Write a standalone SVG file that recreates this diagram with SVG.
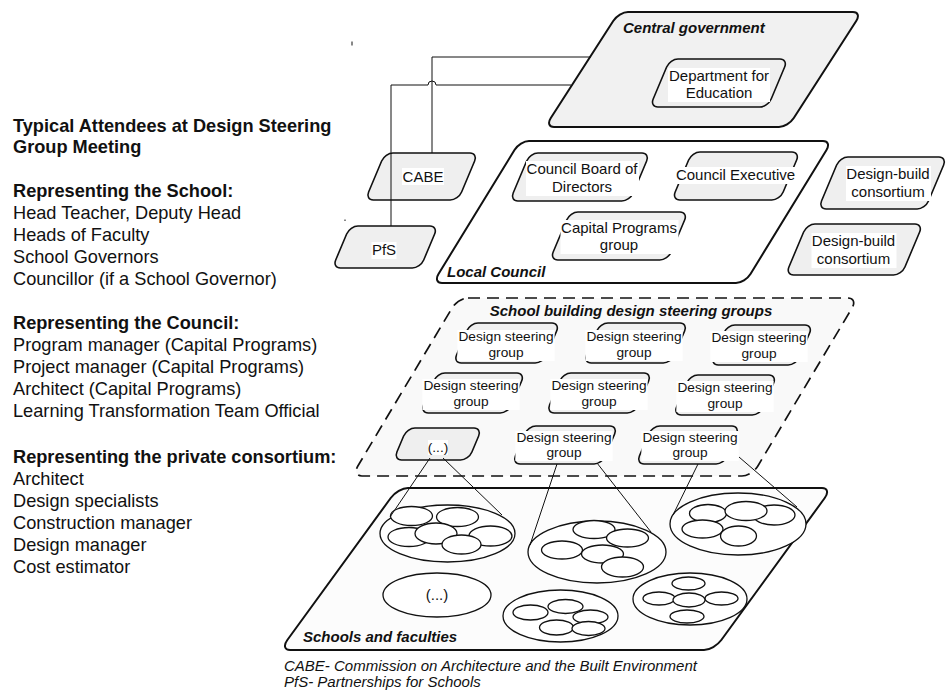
<svg xmlns="http://www.w3.org/2000/svg" width="949" height="690" viewBox="0 0 949 690">
<style>
text { font-family: "Liberation Sans", Arial, sans-serif; fill: #111; }
.lbl { font-size: 15px; text-anchor: middle; }
.sg { font-size: 13.7px; text-anchor: middle; }
.ttl { font-size: 15px; font-weight: bold; font-style: italic; }
.side { font-size: 18.2px; }
.b { font-weight: bold; }
.foot { font-size: 15px; font-style: italic; }
.big { stroke: #111; stroke-width: 2; }
.box { fill: #efefef; stroke: #111; stroke-width: 1.6; }
.tbg { fill: #fff; }
.conn { fill: none; stroke: #111; stroke-width: 1; }
.ell { fill: #fff; stroke: #111; stroke-width: 1.3; }
</style>
<rect width="949" height="690" fill="#fff"/>

<g id="legend">
<text class="side b" x="13" y="131.5">Typical Attendees at Design Steering</text>
<text class="side b" x="13" y="153">Group Meeting</text>
<text class="side b" x="13" y="196.5">Representing the School:</text>
<text class="side" x="13" y="218.5">Head Teacher, Deputy Head</text>
<text class="side" x="13" y="240.5">Heads of Faculty</text>
<text class="side" x="13" y="262.5">School Governors</text>
<text class="side" x="13" y="284.5">Councillor (if a School Governor)</text>
<text class="side b" x="13" y="329">Representing the Council:</text>
<text class="side" x="13" y="351">Program manager (Capital Programs)</text>
<text class="side" x="13" y="373">Project manager (Capital Programs)</text>
<text class="side" x="13" y="395">Architect (Capital Programs)</text>
<text class="side" x="13" y="417">Learning Transformation Team Official</text>
<text class="side b" x="13" y="462.5">Representing the private consortium:</text>
<text class="side" x="13" y="484.5">Architect</text>
<text class="side" x="13" y="506.5">Design specialists</text>
<text class="side" x="13" y="528.5">Construction manager</text>
<text class="side" x="13" y="550.5">Design manager</text>
<text class="side" x="13" y="572.5">Cost estimator</text>
</g>

<g id="central-government">
<rect class="big" fill="#f1f1f1" x="0" y="0" width="243" height="115" rx="9" transform="translate(619,12) skewX(-32.76)" vector-effect="non-scaling-stroke"/>
<text class="ttl" x="623" y="33">Central government</text>
</g>
<g id="dfe">
<rect class="box" x="0" y="0" width="118" height="48" rx="8" transform="translate(670,59) skewX(-22.8)" vector-effect="non-scaling-stroke"/>
<rect class="tbg" x="668" y="68" width="102" height="34"/>
<text class="lbl" x="719" y="81">Department for</text>
<text class="lbl" x="719" y="98">Education</text>
</g>

<g id="cabe">
<rect class="box" x="0" y="0" width="93" height="47" rx="8" transform="translate(385,153) skewX(-22.8)" vector-effect="non-scaling-stroke"/>
<rect class="tbg" x="402" y="168" width="42" height="17"/>
<text class="lbl" x="423" y="181.5">CABE</text>
</g>
<g id="pfs">
<rect class="box" x="0" y="0" width="88" height="42" rx="8" transform="translate(350,226) skewX(-22.8)" vector-effect="non-scaling-stroke"/>
<rect class="tbg" x="371.5" y="242" width="25" height="17"/>
<text class="lbl" x="384" y="255">PfS</text>
</g>

<g id="local-council">
<rect class="big" fill="#fff" x="0" y="0" width="312" height="142" rx="9" transform="translate(520,141) skewX(-31.5)" vector-effect="non-scaling-stroke"/>
<text class="ttl" x="447" y="277">Local Council</text>
</g>
<g id="council-board">
<rect class="box" x="0" y="0" width="120" height="48" rx="8" transform="translate(530,153) skewX(-22.8)" vector-effect="non-scaling-stroke"/>
<rect class="tbg" x="526" y="161" width="113" height="35"/>
<text class="lbl" x="582" y="174">Council Board of</text>
<text class="lbl" x="582" y="191.5">Directors</text>
</g>
<g id="council-executive">
<rect class="box" x="0" y="0" width="108" height="48" rx="8" transform="translate(692,152) skewX(-22.8)" vector-effect="non-scaling-stroke"/>
<rect class="tbg" x="675.5" y="167" width="121" height="17"/>
<text class="lbl" x="735.5" y="180">Council Executive</text>
</g>
<g id="capital-programs">
<rect class="box" x="0" y="0" width="118" height="48" rx="8" transform="translate(570,212) skewX(-22.8)" vector-effect="non-scaling-stroke"/>
<rect class="tbg" x="560.5" y="220" width="118" height="34"/>
<text class="lbl" x="619" y="232.5">Capital Programs</text>
<text class="lbl" x="619" y="249.5">group</text>
</g>

<g id="design-build-1">
<rect class="box" x="0" y="0" width="107" height="52" rx="8" transform="translate(840,157) skewX(-22.8)" vector-effect="non-scaling-stroke"/>
<rect class="tbg" x="846" y="166" width="85" height="35"/>
<text class="lbl" x="888" y="179">Design-build</text>
<text class="lbl" x="888" y="197">consortium</text>
</g>
<g id="design-build-2">
<rect class="box" x="0" y="0" width="116" height="51" rx="8" transform="translate(807,224) skewX(-22.8)" vector-effect="non-scaling-stroke"/>
<rect class="tbg" x="811.5" y="233" width="85" height="35"/>
<text class="lbl" x="853.5" y="246">Design-build</text>
<text class="lbl" x="853.5" y="264">consortium</text>
</g>

<g id="steering-groups">
<rect fill="#f9f9f9" stroke="#111" stroke-width="1.7" stroke-dasharray="12 7" x="0" y="0" width="400" height="178" rx="10" transform="translate(458,298) skewX(-30.8)" vector-effect="non-scaling-stroke"/>
<text class="ttl" x="631" y="316" text-anchor="middle">School building design steering groups</text>
</g>

<g id="dsg-1">
<rect class="box" fill="#f2f2f2" x="0" y="0" width="90" height="40" rx="8" transform="translate(470,323) skewX(-22.8)" vector-effect="non-scaling-stroke"/>
<rect class="tbg" x="457.4" y="330" width="97.2" height="31"/>
<text class="sg" x="506" y="341">Design steering</text>
<text class="sg" x="506" y="357">group</text>
</g>
<g id="dsg-2">
<rect class="box" fill="#f2f2f2" x="0" y="0" width="88" height="40" rx="8" transform="translate(600,323) skewX(-22.8)" vector-effect="non-scaling-stroke"/>
<rect class="tbg" x="585.4" y="330" width="97.2" height="31"/>
<text class="sg" x="634" y="341">Design steering</text>
<text class="sg" x="634" y="357">group</text>
</g>
<g id="dsg-3">
<rect class="box" fill="#f2f2f2" x="0" y="0" width="86" height="40" rx="8" transform="translate(727,325) skewX(-22.8)" vector-effect="non-scaling-stroke"/>
<rect class="tbg" x="710.4" y="331" width="97.2" height="31"/>
<text class="sg" x="759" y="342">Design steering</text>
<text class="sg" x="759" y="358">group</text>
</g>
<g id="dsg-4">
<rect class="box" fill="#f2f2f2" x="0" y="0" width="88" height="40" rx="8" transform="translate(437,373) skewX(-22.8)" vector-effect="non-scaling-stroke"/>
<rect class="tbg" x="422.4" y="379" width="97.2" height="31"/>
<text class="sg" x="471" y="390">Design steering</text>
<text class="sg" x="471" y="406">group</text>
</g>
<g id="dsg-5">
<rect class="box" fill="#f2f2f2" x="0" y="0" width="89" height="40" rx="8" transform="translate(563,373) skewX(-22.8)" vector-effect="non-scaling-stroke"/>
<rect class="tbg" x="550.4" y="379" width="97.2" height="31"/>
<text class="sg" x="599" y="390">Design steering</text>
<text class="sg" x="599" y="406">group</text>
</g>
<g id="dsg-6">
<rect class="box" fill="#f2f2f2" x="0" y="0" width="87" height="40" rx="8" transform="translate(690,375) skewX(-22.8)" vector-effect="non-scaling-stroke"/>
<rect class="tbg" x="676.4" y="381" width="97.2" height="31"/>
<text class="sg" x="725" y="392">Design steering</text>
<text class="sg" x="725" y="408">group</text>
</g>
<g id="dsg-more">
<rect class="box" fill="#e8e8e8" x="0" y="0" width="75" height="32" rx="8" transform="translate(407,428) skewX(-22.8)" vector-effect="non-scaling-stroke"/>
<rect class="tbg" x="428" y="440" width="20" height="15"/>
<text class="sg" x="438" y="451.5">(...)</text>
</g>
<g id="dsg-7">
<rect class="box" fill="#f2f2f2" x="0" y="0" width="90" height="38" rx="8" transform="translate(528,426) skewX(-22.8)" vector-effect="non-scaling-stroke"/>
<rect class="tbg" x="515.4" y="431" width="97.2" height="30"/>
<text class="sg" x="564" y="442">Design steering</text>
<text class="sg" x="564" y="457">group</text>
</g>
<g id="dsg-8">
<rect class="box" fill="#f2f2f2" x="0" y="0" width="88" height="38" rx="8" transform="translate(652,426) skewX(-22.8)" vector-effect="non-scaling-stroke"/>
<rect class="tbg" x="641.4" y="431" width="97.2" height="30"/>
<text class="sg" x="690" y="442">Design steering</text>
<text class="sg" x="690" y="457">group</text>
</g>

<g id="schools">
<rect class="big" fill="#fcfcfc" x="0" y="0" width="434" height="162" rx="10" transform="translate(398,488) skewX(-36.06)" vector-effect="non-scaling-stroke"/>
<text class="ttl" x="303" y="642">Schools and faculties</text>
</g>

<g id="school-1">
<ellipse class="ell" cx="447.5" cy="533.5" rx="67.5" ry="28.5"/>
<ellipse class="ell" cx="411.5" cy="516" rx="21" ry="9.5"/>
<ellipse class="ell" cx="457.5" cy="517" rx="21" ry="9.5"/>
<ellipse class="ell" cx="409" cy="537" rx="21" ry="9.5"/>
<ellipse class="ell" cx="436" cy="533.5" rx="21" ry="10.5"/>
<ellipse class="ell" cx="490.5" cy="536" rx="21.5" ry="10"/>
<ellipse class="ell" cx="461.5" cy="544.5" rx="19.5" ry="9.5"/>
</g>
<g id="school-2">
<ellipse class="ell" cx="597" cy="552" rx="69" ry="31"/>
<ellipse class="ell" cx="594" cy="529.5" rx="21" ry="9"/>
<ellipse class="ell" cx="627.5" cy="538" rx="21" ry="9"/>
<ellipse class="ell" cx="562" cy="550" rx="20.5" ry="9"/>
<ellipse class="ell" cx="602.5" cy="554" rx="21" ry="9"/>
<ellipse class="ell" cx="622.5" cy="567" rx="21" ry="10"/>
</g>
<g id="school-3">
<ellipse class="ell" cx="738" cy="524" rx="68" ry="31"/>
<ellipse class="ell" cx="708" cy="513.5" rx="18.5" ry="9"/>
<ellipse class="ell" cx="774" cy="515" rx="21" ry="10"/>
<ellipse class="ell" cx="746" cy="511" rx="21" ry="9.5"/>
<ellipse class="ell" cx="702.5" cy="529" rx="20.5" ry="9"/>
<ellipse class="ell" cx="738.5" cy="536" rx="18" ry="10"/>
</g>
<g id="school-more">
<ellipse class="ell" cx="437" cy="595" rx="54" ry="22"/>
<text class="lbl" x="437" y="600">(...)</text>
</g>
<g id="school-4">
<ellipse class="ell" cx="560.5" cy="616" rx="57.5" ry="26"/>
<ellipse class="ell" cx="530.5" cy="612.5" rx="17.5" ry="7.5"/>
<ellipse class="ell" cx="565.5" cy="606.5" rx="17.5" ry="7"/>
<ellipse class="ell" cx="590.5" cy="617" rx="17.5" ry="7"/>
<ellipse class="ell" cx="556.5" cy="627.5" rx="17" ry="7.5"/>
<ellipse class="ell" cx="588.5" cy="628.5" rx="16.5" ry="7"/>
</g>
<g id="school-5">
<ellipse class="ell" cx="690" cy="599" rx="57" ry="26"/>
<ellipse class="ell" cx="688.5" cy="583.5" rx="16.5" ry="6.5"/>
<ellipse class="ell" cx="659" cy="598.5" rx="16" ry="6.5"/>
<ellipse class="ell" cx="721.5" cy="598.5" rx="16.5" ry="6.5"/>
<ellipse class="ell" cx="689" cy="600" rx="16" ry="7"/>
<ellipse class="ell" cx="687" cy="616.5" rx="17" ry="6.5"/>
</g>

<g id="connectors">
<path class="conn" d="M591,57 H432 V153"/>
<path class="conn" d="M571,85 H436 A4,4 0 0,0 428,85 H391 V226"/>
<path class="conn" d="M430,458 L390,517"/>
<path class="conn" d="M443,458 L502,515"/>
<path class="conn" d="M557,464 L530,545"/>
<path class="conn" d="M597,463 L651,532"/>
<path class="conn" d="M698,464 L673,515"/>
<path class="conn" d="M739,457 L797,507"/>
<path class="conn" stroke="#555" d="M352,41.5 V45.5"/>
<path class="conn" stroke="#888" d="M345,219.5 V221"/>
</g>

<g id="footnote">
<text class="foot" x="284" y="671">CABE- Commission on Architecture and the Built Environment</text>
<text class="foot" x="284" y="687">PfS- Partnerships for Schools</text>
</g>
</svg>
